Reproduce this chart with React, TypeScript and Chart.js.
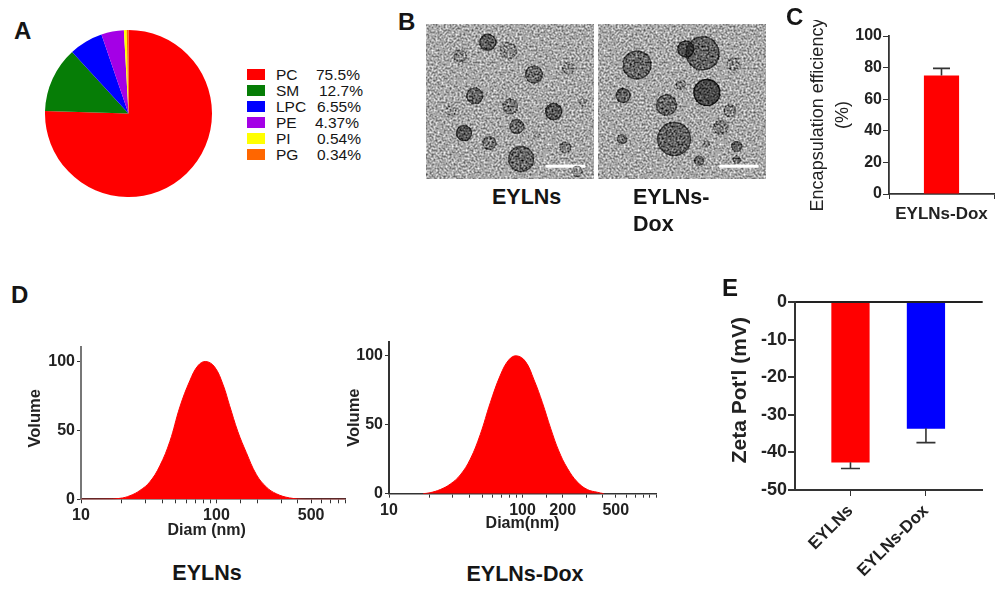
import { useEffect, useRef } from "react";
import { Chart, registerables } from "chart.js";

Chart.register(...registerables);

const FONT = "'Liberation Sans', Arial, sans-serif";
const INK = "#222";

// A: lipid composition
const lipidNames = ["PC", "SM", "LPC", "PE", "PI", "PG"];
const lipidValues = [75.5, 12.7, 6.55, 4.37, 0.54, 0.34];
const lipidLabels = ["75.5%", "12.7%", "6.55%", "4.37%", "0.54%", "0.34%"];
const lipidColors = ["#ff0000", "#067d06", "#0000ff", "#a400e6", "#ffff00", "#ff6600"];
const legendValueLeft = [316, 319, 317, 315, 317, 317];

// B: particles seen in the two micrographs
const emLeftParticles = [
  { x: 185, y: 55, r: 8 }, { x: 102, y: 96, r: 6 }, { x: 247, y: 80, r: 8 }, { x: 323, y: 152, r: 8.5 },
  { x: 427, y: 133, r: 6 }, { x: 146, y: 216, r: 8 }, { x: 252, y: 248, r: 7.5 }, { x: 382, y: 263, r: 8 },
  { x: 470, y: 236, r: 3.5 }, { x: 75, y: 261, r: 5 }, { x: 272, y: 308, r: 7 }, { x: 114, y: 328, r: 7.5 },
  { x: 190, y: 358, r: 6.5 }, { x: 417, y: 371, r: 5.5 }, { x: 285, y: 406, r: 12.5 }, { x: 10, y: 154, r: 3 },
  { x: 10, y: 393, r: 3.5 }, { x: 330, y: 333, r: 3.5 }, { x: 252, y: 463, r: 5 }, { x: 452, y: 443, r: 5 },
];
const emLeftDarkness = [0.75, 0.35, 0.3, 0.6, 0.25, 0.65, 0.45, 0.8, 0.25, 0.2, 0.6, 0.8, 0.5, 0.4, 0.65, 0.5, 0.25, 0.15, 0.5, 0.3];
const emRightParticles = [
  { x: 117, y: 123, r: 14 }, { x: 313, y: 88, r: 16.5 }, { x: 263, y: 75, r: 8 }, { x: 480, y: 36, r: 7 },
  { x: 231, y: 33, r: 4.5 }, { x: 405, y: 121, r: 6 }, { x: 326, y: 206, r: 13 }, { x: 248, y: 183, r: 4.5 },
  { x: 75, y: 215, r: 7 }, { x: 205, y: 244, r: 10 }, { x: 395, y: 260, r: 6 }, { x: 20, y: 278, r: 5 },
  { x: 367, y: 311, r: 7 }, { x: 72, y: 346, r: 4.5 }, { x: 228, y: 346, r: 16.5 }, { x: 325, y: 361, r: 3 },
  { x: 415, y: 368, r: 5 }, { x: 303, y: 411, r: 4.5 }, { x: 415, y: 408, r: 3.5 }, { x: 95, y: 455, r: 5 },
  { x: 308, y: 463, r: 5 }, { x: 483, y: 224, r: 3.5 }, { x: 470, y: 173, r: 3.5 }, { x: 10, y: 113, r: 3 },
];
const emRightDarkness = [0.65, 0.7, 0.85, 0.8, 0.35, 0.3, 0.95, 0.35, 0.7, 0.65, 0.35, 0.3, 0.4, 0.55, 0.7, 0.3, 0.6, 0.6, 0.5, 0.3, 0.5, 0.25, 0.2, 0.3];
const emLeftScaleBar = [{ x: 358, y: 428 }, { x: 476, y: 428 }];
const emRightScaleBar = [{ x: 363, y: 428 }, { x: 481, y: 428 }];

// C: encapsulation efficiency
const efficiencyLabels = ["EYLNs-Dox"];
const efficiencyValues = [75];
const efficiencyErrorTops = [79.5];

// D: size distributions
const diamEylns = [10, 15, 19.4, 23, 27.2, 32.2, 38.2, 45.3, 53.7, 63.6, 73.1, 83.4, 97, 112, 125, 144, 166, 197, 233, 277, 347, 460, 900];
const volumeEylns = [0, 0.1, 0.7, 2.6, 6.4, 12.6, 24.3, 42, 67, 86, 97, 100, 96, 83, 68, 49, 34, 18, 9, 4, 1, 0, 0];
const diamDox = [18, 20.3, 24.2, 28.8, 34.2, 40.6, 48.3, 57.4, 68.3, 78.9, 90, 105, 122, 141, 163, 187, 217, 258, 306, 365, 406];
const volumeDox = [0, 0.7, 3, 7, 13.6, 25, 43, 66, 86, 97, 100, 96, 82.5, 66, 47, 31, 18.4, 8.4, 3, 1, 0];

// E: zeta potential
const zetaLabels = ["EYLNs", "EYLNs-Dox"];
const zetaPositions = [1, 2];
const zetaValues = [-42.6, -33.6];
const zetaErrorEnds = [-44.3, -37.4];

const errorBars = {
  id: "errorBars",
  afterDatasetsDraw(chart: any) {
    chart.data.datasets.forEach((ds: any, d: number) => {
      if (!ds.errorEnds) return;
      const meta = chart.getDatasetMeta(d);
      const { ctx } = chart;
      ctx.save();
      ctx.strokeStyle = "#333";
      ctx.lineWidth = 1.6;
      meta.data.forEach((bar: any, i: number) => {
        const y = chart.scales.y.getPixelForValue(ds.errorEnds[i]);
        ctx.beginPath();
        ctx.moveTo(bar.x, bar.y);
        ctx.lineTo(bar.x, y);
        ctx.moveTo(bar.x - ds.capHalf, y);
        ctx.lineTo(bar.x + ds.capHalf, y);
        ctx.stroke();
      });
      ctx.restore();
    });
  },
};

const boldFont = (size: number) => ({ family: FONT, size, weight: "bold" as const });

const baseOptions = {
  responsive: false,
  animation: false as const,
  plugins: { legend: { display: false }, tooltip: { enabled: false } },
};

function sizeChart(
  diam: number[],
  volume: number[],
  xMax: number,
  yMax: number,
  labelled: number[],
  xTitle: string,
  yTitle: string,
  yColor: string,
  yWidth: number,
  xHeight: number,
  padTop: number,
  padRight: number,
  titlePad: number,
) {
  return {
    type: "line",
    data: {
      datasets: [
        {
          data: diam.map((x, i) => ({ x, y: volume[i] })),
          borderColor: "#ff0000",
          backgroundColor: "#ff0000",
          borderWidth: 1,
          pointRadius: 0,
          fill: "origin",
          tension: 0.4,
        },
      ],
    },
    options: {
      ...baseOptions,
      layout: { padding: { top: padTop, right: padRight } },
      scales: {
        x: {
          type: "logarithmic",
          min: 10,
          max: xMax,
          afterFit: (s: any) => { s.height = xHeight; },
          border: { color: "#333", width: 1.6 },
          grid: { drawOnChartArea: false, tickLength: 4, tickColor: "#333" },
          ticks: {
            autoSkip: false,
            maxRotation: 0,
            padding: 3,
            color: INK,
            font: boldFont(16),
            callback: (v: number) => (labelled.includes(v) ? String(v) : ""),
          },
          title: { display: true, text: xTitle, color: INK, font: boldFont(16), padding: { top: 0, bottom: 5 } },
        },
        y: {
          min: 0,
          max: yMax,
          afterFit: (s: any) => { s.width = yWidth; },
          border: { color: yColor, width: 2 },
          grid: { drawOnChartArea: false, tickLength: 4, tickColor: "#333" },
          ticks: { stepSize: 50, includeBounds: false, padding: 2, color: INK, font: boldFont(16) },
          title: { display: true, text: yTitle, color: INK, font: boldFont(16.5), padding: { top: titlePad, bottom: 0 } },
        },
      },
    },
    plugins: [],
  };
}

const pieConfig = () => ({
  type: "pie",
  data: {
    labels: lipidNames,
    datasets: [{ data: lipidValues, backgroundColor: lipidColors, borderWidth: 0 }],
  },
  options: baseOptions,
});

// the bubble controller insets the chart area by its largest bubble, so the
// domain is narrowed by that inset (3 data units to a pixel) to stay registered
const micrographConfig = (particles: any[], darkness: number[], scaleBar: any[]) => {
  const inset = 3 * (Math.max(...particles.map((p) => p.r)) + 1.4);
  return {
    type: "bubble",
    data: {
      datasets: [
        {
          data: particles,
          clip: false,
          backgroundColor: (c: any) => `rgba(25,25,25,${(darkness[c.dataIndex] ?? 0) * 0.7})`,
          borderColor: (c: any) => `rgba(15,15,15,${darkness[c.dataIndex] ?? 0})`,
          borderWidth: 1.4,
        },
        {
          type: "line",
          data: scaleBar,
          clip: false,
          borderColor: "#ffffff",
          borderWidth: 3,
          pointRadius: 0,
        },
      ],
    },
    options: {
      ...baseOptions,
      scales: {
        x: { type: "linear", display: false, min: inset, max: 503 - inset },
        y: { type: "linear", display: false, min: inset, max: 466 - inset, reverse: true },
      },
    },
  };
};

const efficiencyConfig = () => ({
  type: "bar",
  data: {
    labels: efficiencyLabels,
    datasets: [
      {
        data: efficiencyValues,
        backgroundColor: "#ff0000",
        barPercentage: 0.335,
        categoryPercentage: 1,
        errorEnds: efficiencyErrorTops,
        capHalf: 8.5,
      },
    ],
  },
  options: {
    ...baseOptions,
    layout: { padding: { top: 16, right: 4 } },
    scales: {
      x: {
        afterFit: (s: any) => { s.height = 36; },
        border: { color: "#333", width: 1.8 },
        grid: { drawOnChartArea: false, tickLength: 5, tickColor: "#333" },
        ticks: { padding: 5, maxRotation: 0, color: INK, font: boldFont(17) },
      },
      y: {
        min: 0,
        max: 100,
        afterFit: (s: any) => { s.width = 99; },
        border: { color: "#333", width: 1.8 },
        grid: { drawOnChartArea: false, tickLength: 6, tickColor: "#333" },
        ticks: { stepSize: 20, padding: 1, color: INK, font: boldFont(16) },
        title: {
          display: true,
          text: ["Encapsulation efficiency", "(%)"],
          color: INK,
          font: { family: FONT, size: 18, lineHeight: 1.39 },
          padding: { top: 16, bottom: 0 },
        },
      },
    },
  },
  plugins: [errorBars],
});

const zetaConfig = () => ({
  type: "bar",
  data: {
    datasets: [
      {
        data: zetaPositions.map((x, i) => ({ x, y: zetaValues[i] })),
        backgroundColor: ["#ff0000", "#0000ff"],
        barThickness: 37.6,
        errorEnds: zetaErrorEnds,
        capHalf: 9.5,
      },
    ],
  },
  options: {
    ...baseOptions,
    layout: { padding: { top: 12, right: 7.3 } },
    scales: {
      x: {
        type: "linear",
        offset: false,
        min: 0.265,
        max: 2.752,
        afterBuildTicks: (s: any) => { s.ticks = zetaPositions.map((value) => ({ value })); },
        afterFit: (s: any) => { s.height = 100; },
        border: { color: "#333", width: 2 },
        grid: { offset: false, drawOnChartArea: false, tickLength: 6, tickColor: "#333" },
        ticks: {
          minRotation: 45,
          maxRotation: 45,
          padding: 5,
          color: INK,
          font: boldFont(17),
          callback: (v: number) => zetaLabels[v - 1],
        },
      },
      y: {
        min: -50,
        max: 0,
        afterFit: (s: any) => { s.width = 70; },
        border: { color: "#333", width: 2, z: 2 },
        grid: {
          z: 1,
          lineWidth: 2,
          tickLength: 7,
          tickColor: "#333",
          color: (c: any) => (c.tick.value === 0 ? "#222" : "transparent"),
        },
        ticks: { stepSize: 10, padding: 1, color: INK, font: boldFont(18) },
        title: {
          display: true,
          text: "\u00a0\u00a0Zeta Pot'l (mV)",
          color: INK,
          font: boldFont(21),
          padding: { top: 2.5, bottom: 0 },
        },
      },
    },
  },
  plugins: [errorBars],
});

function ChartCanvas({ left, top, width, height, makeConfig }: any) {
  const canvasRef = useRef<HTMLCanvasElement>(null);

  useEffect(() => {
    if (!canvasRef.current) return;
    const chart = new Chart(canvasRef.current, makeConfig());
    return () => chart.destroy();
  }, []);

  return (
    <canvas
      ref={canvasRef}
      width={width}
      height={height}
      style={{ position: "absolute", left, top, width, height }}
    />
  );
}

function Label({ text, left, top, center, size = 21.5, bold = true }: any) {
  return (
    <div
      style={{
        position: "absolute",
        left,
        top,
        transform: center ? "translate(-50%, -50%)" : "translateY(-50%)",
        fontFamily: FONT,
        fontSize: size,
        fontWeight: bold ? "bold" : "normal",
        color: "#151515",
        whiteSpace: "nowrap",
        lineHeight: 1,
      }}
    >
      {text}
    </div>
  );
}

// film grain only, laid over the micrograph; no chart value comes from it
const GRAIN =
  "url(\"data:image/svg+xml,%3Csvg xmlns='http://www.w3.org/2000/svg' width='168' height='155'%3E%3Cfilter id='n' color-interpolation-filters='sRGB'%3E%3CfeTurbulence type='fractalNoise' baseFrequency='0.5' numOctaves='2' seed='7'/%3E%3CfeColorMatrix values='1.5 0 0 0 -0.25 1.5 0 0 0 -0.25 1.5 0 0 0 -0.25 0 0 0 0 1'/%3E%3C/filter%3E%3Crect width='100%25' height='100%25' filter='url(%23n)'/%3E%3C/svg%3E\")";

function Micrograph({ left, particles, darkness, scaleBar }: any) {
  return (
    <>
      <div style={{ position: "absolute", left, top: 24, width: 168, height: 155, background: "#a8a8a8" }} />
      <ChartCanvas
        left={left}
        top={24}
        width={168}
        height={155}
        makeConfig={() => micrographConfig(particles, darkness, scaleBar)}
      />
      <div
        style={{
          position: "absolute",
          left,
          top: 24,
          width: 168,
          height: 155,
          backgroundImage: GRAIN,
          mixBlendMode: "overlay",
        }}
      />
    </>
  );
}

export default function App() {
  return (
    <div
      style={{
        position: "absolute",
        left: 0,
        top: 0,
        width: 1000,
        height: 592,
        background: "#fff",
        overflow: "hidden",
        filter: "blur(0.4px)",
      }}
    >
      <ChartCanvas left={45} top={30} width={167} height={167} makeConfig={pieConfig} />

      {lipidNames.map((name, i) => (
        <div key={name}>
          <div
            style={{
              position: "absolute",
              left: 247,
              top: 68.5 + i * 16,
              width: 18,
              height: 11,
              background: lipidColors[i],
            }}
          />
          <Label text={name} left={276} top={74.5 + i * 16} size={15.5} bold={false} />
          <Label text={lipidLabels[i]} left={legendValueLeft[i]} top={74.5 + i * 16} size={15.5} bold={false} />
        </div>
      ))}

      <Micrograph left={426} particles={emLeftParticles} darkness={emLeftDarkness} scaleBar={emLeftScaleBar} />
      <Micrograph left={598} particles={emRightParticles} darkness={emRightDarkness} scaleBar={emRightScaleBar} />

      <ChartCanvas left={790} top={20} width={208} height={210} makeConfig={efficiencyConfig} />

      <ChartCanvas
        left={20}
        top={335}
        width={335}
        height={210}
        makeConfig={() =>
          sizeChart(diamEylns, volumeEylns, 900, 110.8, [10, 100, 500], "Diam (nm)\u00a0\u00a0\u00a0", "\u00a0\u00a0Volume", "#777", 61, 45.7, 10, 9.3, 5.4)
        }
      />
      <ChartCanvas
        left={340}
        top={330}
        width={325}
        height={208}
        makeConfig={() =>
          sizeChart(diamDox, volumeDox, 1000, 110.3, [10, 100, 200, 500], "Diam(nm)", "Volume", "#333", 49, 44.3, 10, 9, 4.4)
        }
      />

      <ChartCanvas left={725} top={290} width={265} height={300} makeConfig={zetaConfig} />

      <Label text="A" left={14} top={31} size={24} />
      <Label text="B" left={398} top={22} size={24} />
      <Label text="C" left={786} top={17} size={24} />
      <Label text="D" left={11} top={295} size={24} />
      <Label text="E" left={722} top={288} size={24} />

      <Label text="EYLNs" left={492} top={198} />
      <Label text="EYLNs-" left={633} top={198} />
      <Label text="Dox" left={633} top={225} />
      <Label text="EYLNs" left={207} top={574} center />
      <Label text="EYLNs-Dox" left={525} top={575} center />
    </div>
  );
}
